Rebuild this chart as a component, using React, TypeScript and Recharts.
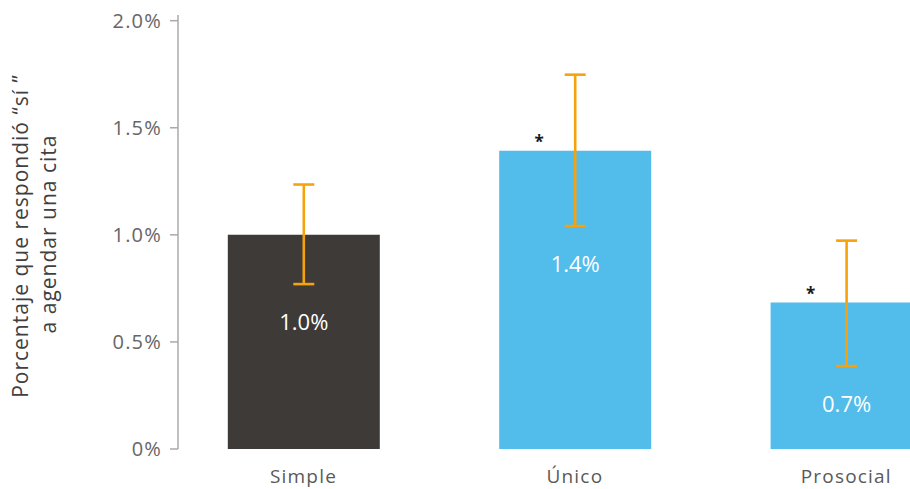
import React from "react";
import { BarChart, Bar, XAxis, YAxis, ErrorBar, Cell, LabelList } from "recharts";

const categories = ["Simple", "Único", "Prosocial"];
const values = [1.0, 1.393, 0.684];
const ciLow = [0.77, 1.041, 0.387];
const ciHigh = [1.235, 1.748, 0.973];
const significant = [false, true, true];
const barColors = ["#3e3a37", "#52bcea", "#52bcea"];
const yTicks = [0, 0.5, 1.0, 1.5, 2.0];
const yTitleLines = ["Porcentaje que respondió “sí ”", "a agendar una cita"];

const data = categories.map((name, i) => ({
  name,
  value: values[i],
  err: [values[i] - ciLow[i], ciHigh[i] - values[i]],
}));

const FONT = "'Open Sans', sans-serif";

const fmtTick = (v: number) => (v === 0 ? "0%" : `${v.toFixed(1)}%`);

const ValueLabel = (props: any) => {
  const { x, y, width, height, index } = props;
  const v = values[index];
  const lowPx = y + height * (1 - ciLow[index] / v);
  return (
    <text
      x={x + width / 2}
      y={lowPx + 45.5}
      textAnchor="middle"
      fill="#ffffff"
      fontSize={22}
      fontWeight={500}
      fontFamily={FONT}
    >
      {`${v.toFixed(1)}%`}
    </text>
  );
};

const StarLabel = (props: any) => {
  const { x, y, width, index } = props;
  if (!significant[index]) return null;
  return (
    <text
      x={x + width / 2 - 36}
      y={y - 3}
      textAnchor="middle"
      fill="#1a1a1a"
      fontSize={17}
      fontWeight={700}
      fontFamily={FONT}
    >
      *
    </text>
  );
};

const YTitle = () => (
  <g>
    <text
      transform="translate(27.7,236) rotate(-90)"
      textAnchor="middle"
      fill="#404040"
      fontSize={21}
      fontWeight={500}
      fontFamily={FONT}
      letterSpacing={1}
    >
      {yTitleLines[0]}
    </text>
    <text
      transform="translate(55.7,234) rotate(-90)"
      textAnchor="middle"
      fill="#404040"
      fontSize={21}
      fontWeight={500}
      fontFamily={FONT}
      letterSpacing={1}
    >
      {yTitleLines[1]}
    </text>
  </g>
);

export default function App() {
  return (
    <div
      style={{
        position: "fixed",
        left: 0,
        top: 0,
        width: 910,
        height: 489,
        overflow: "hidden",
        background: "#ffffff",
      }}
    >
      <BarChart
        width={1000}
        height={489}
        data={data}
        margin={{ top: 15, right: 0, bottom: 0, left: 0 }}
        barSize={152}
      >
        <XAxis
          dataKey="name"
          axisLine={false}
          tickLine={false}
          tickSize={0}
          tickMargin={21}
          height={40}
          padding={{ left: -10.2, right: 18 }}
          tick={{ fill: "#595959", fontSize: 19, fontFamily: FONT, letterSpacing: 1.2 } as any}
        />
        <YAxis
          width={178}
          domain={[0, 2.0266]}
          ticks={yTicks}
          tickFormatter={fmtTick}
          axisLine={{ stroke: "#aaaaaa", strokeWidth: 1.5 }}
          tickLine={{ stroke: "#aaaaaa", strokeWidth: 1.5 }}
          tickSize={8}
          tickMargin={8}
          allowDataOverflow
          tick={{ fill: "#666666", fontSize: 20, fontFamily: FONT, letterSpacing: 1.2 } as any}
          label={<YTitle />}
        />
        <Bar dataKey="value" isAnimationActive={false}>
          {data.map((d, i) => (
            <Cell key={d.name} fill={barColors[i]} />
          ))}
          <ErrorBar
            dataKey="err"
            width={10.5}
            stroke="#f6a20c"
            strokeWidth={2.6}
            direction="y"
            isAnimationActive={false}
          />
          <LabelList dataKey="value" content={<ValueLabel />} />
          <LabelList dataKey="value" content={<StarLabel />} />
        </Bar>
      </BarChart>
    </div>
  );
}
